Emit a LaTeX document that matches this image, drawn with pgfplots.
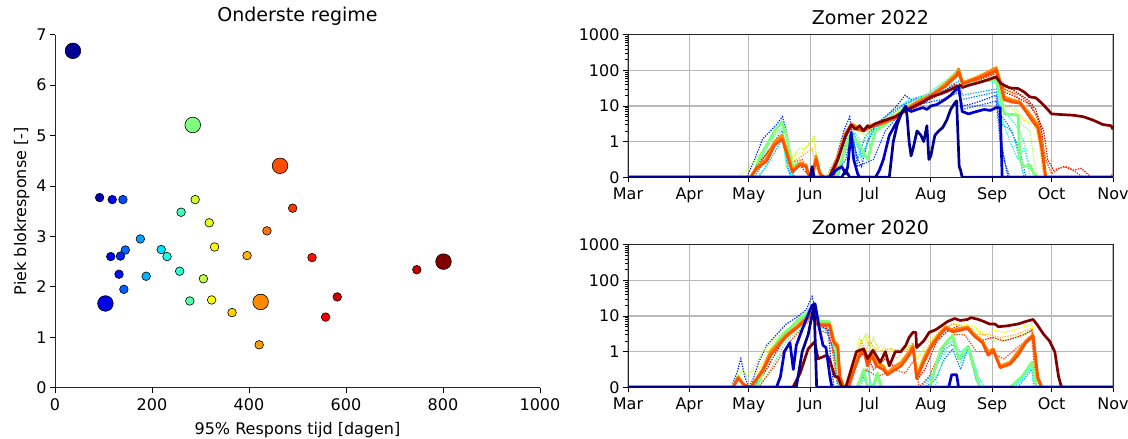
\documentclass[border=0pt]{standalone}
\usepackage{fontspec}
\setmainfont{DejaVu Sans}
\usepackage{pgfplots}
\usepackage{pgfplotstable}
\pgfplotsset{compat=1.18}

\definecolor{cnavy}{RGB}{0,0,143}
\definecolor{cblue}{RGB}{0,0,205}
\definecolor{cgreen}{RGB}{124,255,121}
\definecolor{corange}{RGB}{255,138,0}
\definecolor{cored}{RGB}{255,80,0}
\definecolor{cdred}{RGB}{128,0,0}
\definecolor{dblue}{RGB}{0,40,255}
\definecolor{dblue2}{RGB}{0,80,255}
\definecolor{ddodger}{RGB}{0,128,255}
\definecolor{dlblue}{RGB}{0,176,255}
\definecolor{dcyan}{RGB}{5,255,250}
\definecolor{dteal}{RGB}{64,255,184}
\definecolor{dygreen}{RGB}{180,255,74}
\definecolor{dyellow}{RGB}{248,245,0}
\definecolor{dorange}{RGB}{255,176,0}
\definecolor{dred}{RGB}{240,0,0}
\definecolor{dored}{RGB}{255,60,0}
\definecolor{ddred}{RGB}{176,0,0}
\definecolor{dmint}{RGB}{80,255,168}

\pgfplotstableread{
x y c s
37 6.68 0.02 7.8
92 3.77 0.05 4.3
118 3.73 0.13 4.3
140 3.73 0.20 4.3
284 5.21 0.50 7.8
464 4.40 0.80 7.8
289 3.73 0.58 4.3
260 3.48 0.44 4.3
318 3.27 0.60 4.3
490 3.56 0.82 4.3
437 3.11 0.76 4.3
176 2.95 0.28 4.3
145 2.73 0.23 4.3
219 2.74 0.35 4.3
231 2.60 0.40 4.3
329 2.79 0.63 4.3
396 2.62 0.70 4.3
530 2.58 0.86 4.3
115 2.60 0.12 4.3
135 2.61 0.16 4.3
132 2.25 0.14 4.3
188 2.21 0.30 4.3
257 2.31 0.42 4.3
306 2.16 0.56 4.3
801 2.50 1.00 7.8
746 2.34 0.93 4.3
142 1.95 0.22 4.3
104 1.67 0.10 7.8
278 1.72 0.46 4.3
323 1.74 0.62 4.3
424 1.70 0.74 7.8
365 1.49 0.67 4.3
582 1.80 0.92 4.3
558 1.40 0.89 4.3
421 0.85 0.72 4.3
}\scatterdata

\pgfplotsset{
  every tick label/.append style={font=\fontsize{16}{19}\selectfont},
  every x tick label/.append style={yshift=-2pt},
  every axis label/.append style={font=\fontsize{16}{19}\selectfont},
  every axis title/.append style={font=\fontsize{19}{22}\selectfont},
  /pgf/number format/assume math mode=true,
  /pgf/number format/1000 sep={},
  symlogaxis/.style={
    scale only axis, width=485pt, height=142.6pt,
    xmin=0, xmax=245, ymin=0, ymax=4,
    xtick={0,31,61,92,122,153,184,214,245},
    xticklabels={Mar,Apr,May,Jun,Jul,Aug,Sep,Oct,Nov},
    ytick={0,1,2,3,4}, yticklabels={0,1,10,100,1000},
    minor ytick={1.30103,1.47712,1.60206,1.69897,1.77815,1.84510,1.90309,1.95424,
                 2.30103,2.47712,2.60206,2.69897,2.77815,2.84510,2.90309,2.95424,
                 3.30103,3.47712,3.60206,3.69897,3.77815,3.84510,3.90309,3.95424},
    xmajorgrids, ymajorgrids,
    grid style={color=black!28, line width=1.1pt},
    tick align=outside, major tick length=5pt, minor tick length=3pt,
    xtick pos=bottom, ytick pos=left,
    axis line style={line width=1pt, black!85},
    tick style={black, line width=0.9pt},
    minor tick style={black, line width=0.6pt},
    y filter/.code={\edef\tmpy{\pgfmathresult}\pgfmathparse{(\tmpy<=1)*\tmpy+(\tmpy>1)*(1+log10(max(\tmpy,1)))}},
    thick line/.style={line width=2.7pt, line join=round},
    dot line/.style={dash pattern=on 1.3pt off 1.3pt, line width=1.2pt},
  }
}

\begin{document}
\begin{tikzpicture}
\useasboundingbox (0,0) rectangle (1128pt,439pt);

% ---------------- Left scatter ----------------
\begin{axis}[
  at={(55pt,51.3pt)}, anchor=south west,
  scale only axis, width=485pt, height=353pt,
  xmin=0, xmax=1000, ymin=0, ymax=7,
  xtick={0,200,400,600,800,1000}, ytick={0,1,2,3,4,5,6,7},
  axis x line*=bottom, axis y line*=left,
  axis line style={line width=1pt, black!85},
  tick align=outside, major tick length=5pt,
  tick style={black, line width=0.9pt},
  title={Onderste regime},
  xlabel={95\% Respons tijd [dagen]},
  xlabel style={yshift=-5pt},
  ylabel={Piek blokresponse [-]},
  colormap/jet, point meta min=0, point meta max=1,
  clip=false,
]
\addplot[scatter, only marks, mark=*, point meta=explicit,
  scatter/use mapped color={draw=black, fill=mapped color},
  visualization depends on={\thisrow{s} \as \msize},
  scatter/@pre marker code/.append style={/tikz/mark size=\msize},
  every mark/.append style={line width=0.6pt}]
  table[x=x, y=y, meta=c] {\scatterdata};
\end{axis}

% ---------------- Zomer 2022 ----------------
\begin{axis}[symlogaxis, at={(628pt,261.7pt)}, anchor=south west, title={Zomer 2022}]
\addplot[dot line, dblue] coordinates {(0,0)(60,0)(64,0.5)(68,1.2)(72,2)(75,3)(78,5)(80,2)(82,0.5)(84,0)(100,0)(105,0.5)(109,2)(112,5)(114,1)(116,0.5)(118,0.3)(121,1)(125,3)(130,5)(135,9)(140,20)(143,15)(150,20)(158,25)(163,30)(167,28)(169,10)(175,12)(180,15)(186,20)(188,2)(190,0.5)(192,0)(245,0)};
\addplot[dot line, dblue2] coordinates {(0,0)(104,0)(110,0.5)(113,2)(116,0.3)(124,0.5)(130,2)(136,5)(142,10)(150,12)(158,15)(164,20)(167,25)(169,8)(176,10)(182,12)(186,14)(188,1)(191,0.3)(193,0)(245,0)};
\addplot[dot line, ddodger] coordinates {(0,0)(64,0)(67,0.3)(72,0.8)(76,1.5)(78,2)(80,0.5)(82,0)(104,0)(108,0.5)(112,3)(116,0.5)(120,1.5)(126,3)(132,6)(138,10)(145,15)(153,20)(160,28)(166,40)(168,15)(175,18)(182,22)(186,25)(188,6)(192,3)(196,1)(199,0.5)(201,0)(245,0)};
\addplot[dot line, dlblue] coordinates {(0,0)(66,0)(72,0.5)(78,1.2)(81,0.2)(84,0)(106,0)(111,1)(114,1.8)(118,0.6)(124,2)(132,5)(140,12)(150,18)(158,30)(164,40)(167,50)(169,20)(178,25)(186,30)(189,3)(194,2)(198,0.5)(200,0)(245,0)};
\addplot[dot line, dcyan] coordinates {(0,0)(65,0)(70,0.3)(75,1)(78,1.5)(80,0.3)(83,0)(106,0)(110,0.8)(114,1.5)(118,0.5)(122,1.5)(128,4)(135,8)(142,15)(150,20)(158,40)(164,70)(167,120)(169,40)(176,45)(182,50)(186,45)(189,4)(193,1)(197,0.5)(200,0.8)(203,0.3)(206,0)(245,0)};
\addplot[dot line, dteal] coordinates {(0,0)(62,0)(68,0.6)(74,1.5)(78,2.5)(80,0.6)(84,0)(105,0)(110,1)(114,2)(118,1)(124,2)(132,4)(140,9)(150,18)(158,35)(165,80)(167,110)(169,45)(178,50)(186,55)(189,8)(194,4)(198,2)(201,0.8)(203,0)(245,0)};
\addplot[dot line, dygreen] coordinates {(0,0)(55,0)(60,0.2)(66,0.6)(72,1.2)(76,2)(78,1.5)(80,0.3)(83,0.5)(86,0.8)(90,0.8)(94,1.5)(96,0.2)(98,0)(103,0)(108,1)(112,2.5)(116,2)(120,1.5)(125,3)(132,5)(140,10)(150,20)(160,50)(166,100)(168,50)(175,55)(182,65)(186,70)(190,10)(195,8)(199,3)(203,2)(205,0.5)(207,0)(245,0)};
\addplot[dot line, dyellow] coordinates {(0,0)(60,0)(66,0.3)(72,0.8)(78,1.2)(81,0.5)(84,0.6)(88,0.7)(92,1)(94,1.2)(96,0.1)(100,0)(106,0.6)(112,2.5)(118,2)(125,3)(135,6)(145,12)(155,25)(163,60)(167,90)(169,45)(176,55)(186,90)(189,20)(194,12)(200,4)(205,3)(208,1)(210,0.3)(212,0)(245,0)};
\addplot[dot line, dorange] coordinates {(0,0)(62,0)(68,0.5)(74,1)(78,1.3)(82,0.4)(88,0.6)(93,0.8)(95,0.3)(98,0)(104,0)(109,1)(113,2.8)(118,2.2)(125,3.2)(135,5.5)(145,11)(155,22)(165,70)(167,100)(169,45)(178,60)(186,95)(190,30)(196,20)(202,6)(207,2)(210,0)(245,0)};
\addplot[dot line, dred] coordinates {(0,0)(62,0)(66,0.4)(72,0.8)(78,1.2)(82,0.3)(86,0.4)(92,0)(104,0)(108,1)(113,2.5)(118,2)(124,3)(135,5)(145,10)(155,20)(165,60)(167,85)(169,40)(178,55)(186,90)(190,25)(196,18)(202,12)(207,5)(210,2)(212,0.5)(215,0.2)(220,0.3)(225,0.2)(229,0.25)(232,0.1)(234,0)(245,0)};
\addplot[dot line, dored] coordinates {(0,0)(63,0)(68,0.5)(74,1)(78,1.4)(82,0.4)(88,0.5)(92,0)(104,0)(109,1.2)(113,3)(118,2.2)(124,3)(135,5)(145,10)(155,22)(165,70)(167,95)(169,42)(178,58)(186,80)(190,30)(198,20)(204,10)(208,3)(211,0.5)(214,0.1)(218,0.25)(222,0.3)(226,0.15)(230,0)(243,0)(245,0.1)};
\addplot[dot line, ddred] coordinates {(0,0)(101,0)(106,0.5)(110,1.5)(113,2.5)(118,2)(124,3)(135,5)(145,9)(155,18)(165,40)(168,35)(178,45)(186,70)(190,40)(196,25)(202,15)(206,8)(209,2)(211,0)(245,0)};
% thick lines
\addplot[thick line, cgreen] coordinates {(0,0)(63,0)(66,0.5)(70,0.9)(74,2)(77.8,3.5)(80,1.5)(83,0.3)(86,0.4)(90,0.3)(92,0)(105,0)(108,0.5)(112,1.5)(115,1.2)(118,0.8)(121,0.5)(125,2)(130,3)(135,5)(140,9)(145,12)(153,18)(160,35)(166,70)(167,80)(169,40)(175,45)(180,50)(186,55)(188,20)(190,6)(194,5.8)(197,5.5)(198,0.5)(200,0.3)(203,0.35)(205,0.1)(207,0)(245,0)};
\addplot[thick line, corange] coordinates {(0,0)(62,0)(65,0.3)(70,0.5)(74,1)(77.8,1.5)(80,0.8)(83,0.2)(85,0.3)(87,0.4)(90,0.35)(91,0.1)(92.5,0)(93.5,0.2)(95,0.6)(97,0.1)(99,0)(101.7,0)(106,0.6)(110,1.8)(113,3.2)(116,2.5)(119,2.2)(122,2.8)(128,3.5)(135,5)(140,8)(145,12)(153,20)(160,40)(166,80)(167,110)(169,45)(175,60)(180,80)(186,120)(188,50)(190,18)(194,15)(198,13)(201,8)(204,5)(207,3)(209,1)(211,0)(245,0)};
\addplot[thick line, cored] coordinates {(0,0)(62,0)(65,0.25)(70,0.45)(74,0.9)(77.8,1.2)(80,0.7)(83,0.15)(85,0.25)(87,0.35)(90,0.3)(91,0.1)(92.5,0)(93.5,0.15)(95,0.5)(97,0.1)(99,0)(101.7,0)(106,0.5)(110,1.6)(113,2.8)(116,2.2)(119,2)(122,2.5)(128,3.2)(135,4.6)(140,7.5)(145,11)(153,19)(160,35)(166,70)(167,90)(169,42)(175,55)(180,70)(186,100)(188,45)(190,15)(194,13)(198,12)(201,7)(204,4)(207,2.5)(209,0.8)(211,0)(245,0)};
\addplot[thick line, cdred] coordinates {(0,0)(101.7,0)(106,0.5)(110,1.5)(112.7,3)(115,2.2)(117,2.8)(119,2)(121,2.8)(122,2.5)(125,3.2)(130,4)(135,5)(140,7.5)(145,10)(150,14)(153,18)(158,22)(162,27)(166,35)(168,38)(169,33)(172,38)(177,45)(182,55)(186,65)(188,45)(190,38)(193,32)(197,31)(200,25)(203,18)(206,17)(209,12)(212,8)(214,6)(220,5.7)(225,5.5)(230,5)(235,4)(240,3)(244,2.8)(245,2.2)};
\addplot[thick line, cblue] coordinates {(0,0)(102,0)(105,0.2)(108,0.3)(110,0.1)(111,0.3)(112.7,1.8)(114,0.5)(116,0.1)(117,0)(125,0)(127,0.2)(129,0.5)(132,1.5)(135,3)(138,6)(140,9)(143,7)(146,8)(149,9)(151,8)(153,10)(156,11)(160,15)(163,20)(166,30)(167,35)(168.8,7)(172,6)(176,7)(180,8)(183,7.5)(186,9)(188,9)(189,0)(245,0)};
\addplot[thick line, cnavy] coordinates {(0,0)(92,0)(93,0.3)(94,0)(108,0)(110,0.2)(112,0)(132,0)(134,1)(136,3)(138,6)(140.3,10)(141,5)(142,1)(143,0.6)(144,0.8)(146,2)(148,1.5)(149.4,1)(151,2.8)(152,0.5)(153,0.6)(155,1.5)(157,2)(159,2.5)(161,4)(163,8)(165,12)(166,14)(167.3,0.3)(168,0.2)(168.8,0)(245,0)};
\end{axis}

% ---------------- Zomer 2020 ----------------
\begin{axis}[symlogaxis, at={(628pt,51.7pt)}, anchor=south west, title={Zomer 2020}]
\addplot[dot line, dblue] coordinates {(0,0)(52,0)(55,0.4)(57,0.8)(59,0.3)(61,0)(63,0.2)(66,0.7)(70,1.5)(75,3)(80,6)(85,9)(90,15)(93,35)(95,12)(98,5)(101,4)(103,0.5)(104,0)(245,0)};
\addplot[dot line, ddodger] coordinates {(0,0)(62,0)(66,0.3)(72,1)(78,3)(84,6)(90,12)(94,25)(96,8)(100,5)(103,3)(105,0.5)(106,0)(150,0)(155,0.2)(160,0.8)(164,1.2)(168,0.5)(172,1.3)(176,0.2)(178,0)(245,0)};
\addplot[dot line, dlblue] coordinates {(0,0)(63,0)(68,0.4)(74,1.5)(80,4)(86,7)(92,14)(96,6)(100,4)(104,1)(106,0)(115,0)(119,0.3)(121,0)(148,0)(154,0.4)(160,1.2)(164,1.6)(168,0.8)(172,1)(176,0.2)(178,0)(197,0)(201,0.3)(204,0.5)(205,0)(245,0)};
\addplot[dot line, dcyan] coordinates {(0,0)(64,0)(70,0.5)(76,2)(82,5)(88,9)(94,20)(97,7)(102,5)(105,1)(107,0)(117,0)(121,0.5)(123,0)(150,0)(155,0.5)(160,1.5)(164,2)(168,1)(172,1.5)(177,0.3)(180,0)(195,0)(200,0.3)(204,0.6)(206,0)(245,0)};
\addplot[dot line, dmint] coordinates {(0,0)(66,0)(72,0.5)(80,2)(88,5)(94,12)(97,5)(103,3)(106,0)(118,0)(121,0.8)(123,0)(125,0.3)(127,0)(155,0)(160,1)(164,2)(168,0.7)(172,1.2)(177,0)(245,0)};
\addplot[dot line, dygreen] coordinates {(0,0)(52,0)(55,0.3)(58,0.5)(60,0.3)(63,0.5)(68,1)(75,2.5)(82,5)(88,8)(94,15)(97,7)(102,7)(106,1)(108,0)(112,0)(117,1.5)(120,3)(122,1.2)(124,2.5)(127,1)(130,0.8)(133,1.2)(136,0.8)(140,1.2)(144,1.5)(146,0.5)(150,1)(155,2)(160,4)(165,6)(170,5)(175,4)(180,3)(185,2)(190,2)(195,2.5)(200,3)(204,4)(206,0.5)(208,0)(245,0)};
\addplot[dot line, dyellow] coordinates {(0,0)(60,0)(66,0.5)(74,2)(82,4)(90,8)(94,12)(98,6)(103,5)(107,0.5)(109,0)(113,0.5)(117,2.5)(119,1)(121,3)(124,1)(128,1.5)(132,1)(137,1.2)(142,1.5)(146,0.8)(152,2)(158,4)(164,6)(170,6)(175,5)(180,3)(185,4)(190,3.5)(195,4)(200,5)(204,6)(206,1)(208,0)(245,0)};
\addplot[dot line, dorange] coordinates {(0,0)(64,0)(72,1)(80,3)(88,7)(94,12)(98,6)(103,5)(107,0.3)(109,0)(114,0.5)(118,2)(120,1)(122,2)(126,1)(132,1.2)(140,1)(144,1.8)(146,0.4)(152,1.5)(158,4)(164,6)(170,5)(176,3)(182,3)(188,2.5)(196,3)(204,4.5)(206,0.4)(208,0)(245,0)};
\addplot[dot line, dred] coordinates {(0,0)(64,0)(70,0.5)(78,2)(86,5)(92,10)(95,6)(100,5)(104,1)(107,0)(112,0)(116,0.8)(120,1)(124,0.5)(130,0.8)(136,0.5)(140,0.8)(144,1.3)(146,0.2)(150,0.5)(156,2)(162,4)(166,5)(172,4)(178,2)(184,2.5)(190,2)(196,2.5)(200,3)(204,4)(207,0.3)(209,0)(245,0)};
\addplot[dot line, dored] coordinates {(0,0)(66,0)(74,0.6)(82,2)(90,6)(94,10)(97,4)(102,3)(106,0)(116,0)(120,0.5)(126,0.3)(134,0.5)(140,0.4)(145,0.8)(147,0)(152,0.3)(158,1)(164,3)(170,3)(176,1)(182,1)(190,0.8)(198,1.5)(204,2.5)(206,0)(245,0)};
% thick lines
\addplot[thick line, cgreen] coordinates {(0,0)(65,0)(68,0.4)(72,1)(77,2.5)(81,4)(86,8)(92.5,15)(97,7)(101.7,7)(105,1)(107,0)(116,0)(119,0.5)(121,0)(124,0)(126,0.4)(128,0)(152.5,0)(158,1.2)(164,2.9)(167,0.8)(171.8,1.4)(177.8,0)(193,0)(199,0.3)(204,0.7)(206.5,0)(245,0)};
\addplot[thick line, corange] coordinates {(0,0)(53,0)(55.7,0.3)(58,0.1)(61,0)(62,0)(68,0.5)(72,1)(80,3)(85,5)(89,8)(93.4,13)(96,6)(101.7,6)(104,2)(106,1.5)(107,0.3)(109,0)(111,0)(113,0.3)(117,1)(119,1.2)(121,0.7)(123,1)(125.5,0.7)(129,0.6)(131,0.4)(135,0.6)(138,0.7)(142,1)(144,1.5)(145.8,0.3)(149.4,0.8)(153,1.5)(157,3)(160.5,5)(164,4)(168,4.5)(171.5,5)(175,3)(179,2)(182,1)(184.5,1.2)(188,0.6)(193,0.7)(197,1)(201,2)(204.6,3)(207,0.3)(209,0)(245,0)};
\addplot[thick line, cored] coordinates {(0,0)(53,0)(55.7,0.25)(58,0.1)(61,0)(62,0)(68,0.45)(72,0.9)(80,2.7)(85,4.5)(89,7)(93.4,11)(96,5.5)(101.7,5.5)(104,1.8)(106,1.3)(107,0.3)(109,0)(111,0)(113,0.3)(117,0.9)(119,1.1)(121,0.6)(123,0.9)(125.5,0.6)(129,0.5)(131,0.35)(135,0.5)(138,0.6)(142,0.9)(144,1.3)(145.8,0.25)(149.4,0.7)(153,1.3)(157,2.7)(160.5,4.5)(164,3.6)(168,4)(171.5,4.5)(175,2.7)(179,1.8)(182,0.9)(184.5,1.1)(188,0.55)(193,0.65)(197,0.9)(201,1.8)(204.6,2.7)(207,0.25)(209,0)(245,0)};
\addplot[thick line, cdred] coordinates {(0,0)(83.3,0)(87,0.4)(91,1.2)(94.3,1.9)(96,0.8)(100.5,0.9)(101.7,0.8)(104.5,0.3)(106,0.3)(108,0)(110,0)(112.7,0.5)(115.4,1)(119,1.2)(121,0.8)(123.7,1.1)(127.4,0.7)(130,1)(132,0.6)(135,1)(137.8,1)(140.3,1.5)(142,2.5)(144,3.5)(145.4,3.5)(145.8,1.3)(149.4,2)(152.2,3.5)(155,4)(157.7,5)(161.4,7)(165,8.5)(167.8,7.5)(171.5,8)(173.3,9)(177,8)(179.8,7)(182.5,6)(185.3,6)(187.1,5)(191.7,5.3)(197.2,6)(200.9,7)(204.6,8)(206.4,6)(210.1,3)(212.9,2)(215.6,1)(217.5,0.3)(219,0)(245,0)};
\addplot[thick line, cblue] coordinates {(0,0)(75,0)(77,0.3)(79,1)(81.8,1.8)(83.5,0.5)(85,1.5)(87,3)(90,8)(93,20)(94.5,22)(96.5,5)(98.5,1.5)(100,1.3)(102,0.3)(103,0)(162,0)(163.5,0.35)(166,0.35)(167,0)(245,0)};
\addplot[thick line, cnavy] coordinates {(0,0)(85,0)(88,1)(91,3)(94,20)(95.3,0)(245,0)};
\end{axis}
\end{tikzpicture}
\end{document}
